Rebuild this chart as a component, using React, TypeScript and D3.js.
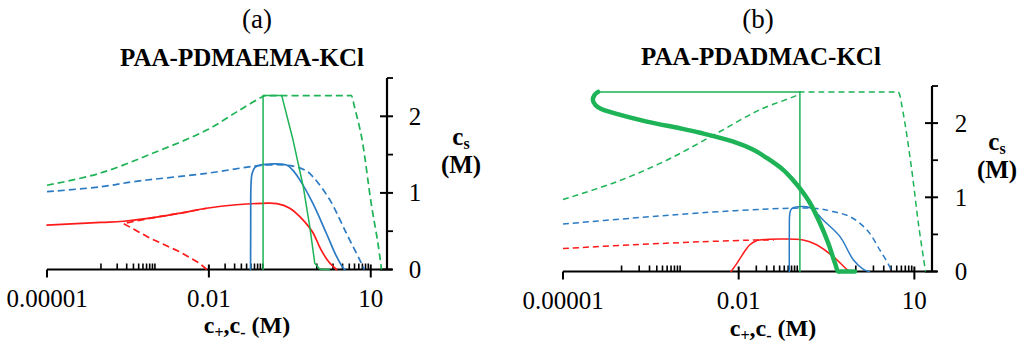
import React from 'react';
import * as d3 from 'd3';

type Pt = [number, number];

// ---------- axis values ----------
const xTickValues = [1e-5, 0.01, 10];
const xTickLabels = ['0.00001', '0.01', '10'];
const xMinorDecades = [1e-4, 1e-2, 1];
const xMinorMultipliers = [1, 2, 3, 4, 5, 6, 7, 8, 9, 10];
const yTickValues = [0, 1, 2];
const yTickLabels = ['0', '1', '2'];
const yMinorValues = [0.5, 1.5, 2.5];
const xDomain: [number, number] = [1e-5, 20];
const yDomain: [number, number] = [0, 2.5];

// ---------- panel (a) PAA-PDMAEMA-KCl ----------
const aRedSolid: Pt[] = [[1e-5, 0.58], [1e-4, 0.615], [2.6e-4, 0.63], [1e-3, 0.68], [3.2e-3, 0.74], [9.1e-3, 0.8], [0.032, 0.845], [0.102, 0.864], [0.182, 0.86], [0.316, 0.8], [0.484, 0.69], [0.708, 0.56], [0.851, 0.48], [1.12, 0.3], [1.31, 0.21], [1.58, 0.12], [2.0, 0.04], [2.32, 0]];
const aRedDashed: Pt[] = [[9.1e-3, 0], [6.8e-3, 0.08], [2.9e-3, 0.23], [8.1e-4, 0.41], [2.6e-4, 0.6], [1e-3, 0.68], [3.2e-3, 0.74], [9.1e-3, 0.8]];
const aBlueSolid: Pt[] = [[0.0592, 0], [0.0596, 0.6], [0.0603, 1.1], [0.0631, 1.25], [0.0708, 1.33], [0.0891, 1.364], [0.275, 1.364], [0.355, 1.3], [0.484, 1.17], [0.851, 0.86], [1.51, 0.47], [2.32, 0.17], [3.09, 0.02], [3.31, 0]];
const aBlueDashed: Pt[] = [[1e-5, 1.016], [1e-4, 1.08], [4e-4, 1.146], [9.1e-3, 1.256], [0.117, 1.364], [0.363, 1.35], [0.631, 1.29], [0.851, 1.21], [1.74, 0.91], [3.55, 0.47], [6.31, 0.12], [7.6, 0]];
const aGreenDashed: Pt[] = [[1e-5, 1.1], [9.5e-5, 1.256], [9.3e-4, 1.52], [9.1e-3, 1.82], [0.037, 2.08], [0.11, 2.27], [0.12, 2.27], [4.0, 2.27], [4.37, 2.27], [5.0, 2.12], [6.76, 1.73], [10.2, 0.86], [13.6, 0.34], [15.8, 0]];
const aGreenSolid: Pt[] = [[0.101, 0], [0.101, 2.27], [0.224, 2.27], [0.363, 1.69], [0.562, 1.08], [0.741, 0.56], [0.918, 0.08], [1.12, 0.01], [1.26, 0], [1.7, 0]];

// ---------- panel (b) PAA-PDADMAC-KCl ----------
const bRedSolid: Pt[] = [[7.41e-3, 0], [9.33e-3, 0.11], [0.0126, 0.27], [0.0155, 0.36], [0.02, 0.415], [0.0229, 0.425], [0.126, 0.425], [0.214, 0.36], [0.412, 0.2], [0.7, 0.03], [0.794, 0]];
const bRedDashed: Pt[] = [[1e-5, 0.31], [1.58e-4, 0.36], [2.19e-3, 0.4], [0.0229, 0.425], [0.04, 0.425]];
const bBlueSolid: Pt[] = [[0.0731, 0], [0.0733, 0.6], [0.0741, 0.76], [0.0776, 0.83], [0.0851, 0.86], [0.166, 0.86], [0.279, 0.69], [0.537, 0.47], [0.912, 0.155], [1.35, 0.03], [1.7, 0]];
const bBlueDashed: Pt[] = [[1e-5, 0.64], [1.58e-4, 0.72], [2.19e-3, 0.79], [0.0575, 0.85], [0.214, 0.85], [0.398, 0.81], [0.794, 0.74], [1.55, 0.56], [2.57, 0.29], [3.8, 0.06], [4.0, 0]];
const bGreenDashed: Pt[] = [[1e-5, 0.97], [8.3e-5, 1.21], [5.9e-4, 1.5], [4.17e-3, 1.86], [0.0229, 2.18], [0.105, 2.39], [0.111, 2.42], [0.12, 2.42], [5.0, 2.42], [5.32, 2.42], [6.46, 2.13], [9.02, 1.37], [11.7, 0.65], [15.1, 0.06], [15.5, 0]];
const bGreenThin: Pt[] = [[0.111, 0], [0.111, 2.42], [3.98e-5, 2.42]];
const bGreenThick: Pt[] = [[3.98e-5, 2.42], [3.45e-5, 2.38], [3.24e-5, 2.31], [3.6e-5, 2.24], [4.5e-5, 2.19], [6.3e-5, 2.15], [2.69e-4, 2.02], [1e-3, 1.93], [2.19e-3, 1.87], [8.1e-3, 1.75], [0.0178, 1.64], [0.0302, 1.53], [0.0575, 1.37], [0.0851, 1.23], [0.111, 1.12], [0.166, 0.92], [0.245, 0.65], [0.339, 0.38], [0.442, 0.11], [0.5, 0], [0.55, 0], [0.968, 0]];

const RED = '#ff1a1a';
const BLUE = '#2b7bc4';
const GREEN = '#1db356';

type Series = { data: Pt[]; color: string; width: number; dash?: string; smooth: boolean };

const seriesA: Series[] = [
  { data: aGreenDashed, color: GREEN, width: 1.7, dash: '7 4', smooth: true },
  { data: aBlueDashed, color: BLUE, width: 1.7, dash: '7 4', smooth: true },
  { data: aRedSolid, color: RED, width: 1.7, smooth: true },
  { data: aRedDashed, color: RED, width: 1.7, dash: '7 4', smooth: false },
  { data: aBlueSolid, color: BLUE, width: 1.7, smooth: true },
  { data: aGreenSolid, color: GREEN, width: 1.5, smooth: false },
];

const seriesB: Series[] = [
  { data: bGreenDashed, color: GREEN, width: 1.5, dash: '6 4', smooth: true },
  { data: bBlueDashed, color: BLUE, width: 1.5, dash: '6 4', smooth: true },
  { data: bRedDashed, color: RED, width: 1.5, dash: '6 4', smooth: true },
  { data: bRedSolid, color: RED, width: 1.5, smooth: true },
  { data: bBlueSolid, color: BLUE, width: 1.5, smooth: true },
  { data: bGreenThin, color: GREEN, width: 1.5, smooth: false },
  { data: bGreenThick, color: GREEN, width: 4.5, smooth: true },
];

const SERIF = 'Liberation Serif, Tinos, Times New Roman, DejaVu Serif, serif';

type PanelProps = {
  letter: string;
  title: string;
  xRange: [number, number];
  yRange: [number, number];
  series: Series[];
  letterY: number;
  titleX: number;
  titleY: number;
  letterX: number;
  xLabelY: number;
  xTitleX: number;
  xTitleY: number;
  ytickX: number;
  csX: number;
  csY: number;
};

function Panel(p: PanelProps) {
  const x = d3.scaleLog().domain(xDomain).range(p.xRange);
  const y = d3.scaleLinear().domain(yDomain).range(p.yRange);
  const y0 = y(0);
  const xAxisX = p.xRange[1];
  const lineSmooth = d3.line<Pt>().x((d) => x(d[0])).y((d) => y(d[1])).curve(d3.curveCatmullRom.alpha(0.5));
  const lineLinear = d3.line<Pt>().x((d) => x(d[0])).y((d) => y(d[1]));
  const minors: number[] = [];
  xMinorDecades.forEach((dec) => xMinorMultipliers.forEach((k) => {
    const v = dec * k;
    if (!xTickValues.some((t) => Math.abs(t - v) / t < 1e-6)) minors.push(v);
  }));
  return (
    <g>
      <text x={p.letterX} y={p.letterY} textAnchor="middle" fontFamily={SERIF} fontSize={27}>{p.letter}</text>
      <text x={p.titleX} y={p.titleY} textAnchor="middle" fontFamily={SERIF} fontSize={25} fontWeight="bold">{p.title}</text>
      {/* x axis */}
      <line x1={p.xRange[0]} x2={xAxisX + 5} y1={y0} y2={y0} stroke="#000" strokeWidth={2.2} />
      {xTickValues.map((t, i) => (
        <g key={'xt' + i}>
          <line x1={x(t)} x2={x(t)} y1={i === 0 ? y0 : y0 - 5} y2={y0 + 8} stroke="#000" strokeWidth={2} />
          <text x={x(t)} y={p.xLabelY} textAnchor="middle" fontFamily={SERIF} fontSize={25}>{xTickLabels[i]}</text>
        </g>
      ))}
      {minors.map((v, i) => (
        <line key={'xm' + i} x1={x(v)} x2={x(v)} y1={y0} y2={y0 - 6} stroke="#000" strokeWidth={1.6} />
      ))}
      <text x={p.xTitleX} y={p.xTitleY} textAnchor="middle" fontFamily={SERIF} fontSize={24} fontWeight="bold">
        c<tspan fontSize={16} dy={5}>+</tspan><tspan dy={-5}>,c</tspan><tspan fontSize={16} dy={5}>-</tspan><tspan dy={-5}> (M)</tspan>
      </text>
      {/* y axis */}
      <line x1={xAxisX} x2={xAxisX} y1={y0} y2={y(2.5)} stroke="#000" strokeWidth={2.2} />
      {yTickValues.map((t, i) => (
        <g key={'yt' + i}>
          <line x1={xAxisX - 7} x2={xAxisX + 6} y1={y(t)} y2={y(t)} stroke="#000" strokeWidth={2} />
          <text x={p.ytickX} y={y(t) + 8.5} textAnchor="middle" fontFamily={SERIF} fontSize={25}>{yTickLabels[i]}</text>
        </g>
      ))}
      {yMinorValues.map((t, i) => (
        <line key={'ym' + i} x1={xAxisX} x2={xAxisX + 6} y1={y(t)} y2={y(t)} stroke="#000" strokeWidth={1.8} />
      ))}
      <text x={p.csX} y={p.csY} textAnchor="middle" fontFamily={SERIF} fontSize={25} fontWeight="bold">
        c<tspan fontSize={16} dy={4}>s</tspan>
      </text>
      <text x={p.csX} y={p.csY + 28} textAnchor="middle" fontFamily={SERIF} fontSize={25} fontWeight="bold">(M)</text>
      {/* series */}
      {p.series.map((s, i) => (
        <path key={'s' + i} d={(s.smooth ? lineSmooth : lineLinear)(s.data) || ''} fill="none" stroke={s.color}
          strokeWidth={s.width} strokeDasharray={s.dash} strokeLinejoin="round" strokeLinecap={s.dash ? 'butt' : 'round'} />
      ))}
    </g>
  );
}

export default function App() {
  return (
    <svg width={1024} height={348} viewBox="0 0 1024 348" style={{ position: 'absolute', left: 0, top: 0, background: '#fff' }}>
      <rect x={0} y={0} width={1024} height={348} fill="#fff" />
      <Panel letter="(a)" title="PAA-PDMAEMA-KCl" xRange={[47, 387]} yRange={[269.5, 78]} series={seriesA}
        letterX={257} letterY={28} titleX={242} titleY={66} xLabelY={307} xTitleX={247} xTitleY={333}
        ytickX={415} csX={461} csY={145} />
      <Panel letter="(b)" title="PAA-PDADMAC-KCl" xRange={[563, 932]} yRange={[271.5, 86]} series={seriesB}
        letterX={758} letterY={28} titleX={761} titleY={65} xLabelY={309} xTitleX={773} xTitleY={336}
        ytickX={961} csX={997} csY={150} />
    </svg>
  );
}
